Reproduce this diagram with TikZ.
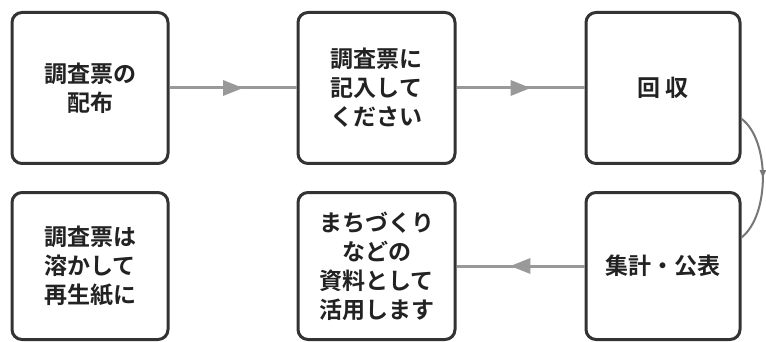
\documentclass[tikz,border=0pt]{standalone}
\usepackage{fontspec}
\setmainfont{Noto Sans CJK JP}[BoldFont={Noto Sans CJK JP Bold}]
\usetikzlibrary{calc,arrows.meta,decorations.markings}
\definecolor{boxline}{HTML}{333333}
\definecolor{txt}{HTML}{222222}
\definecolor{arr}{HTML}{999999}
\definecolor{curv}{HTML}{777777}
\tikzset{
  stepbox/.style={draw=boxline, line width=3pt, rounded corners=10pt, fill=white,
    align=center, text=txt, font=\bfseries\fontsize{23}{29}\selectfont, inner sep=0pt},
  toprow/.style={stepbox, minimum height=151pt},
  botrow/.style={stepbox, minimum height=147pt},
  flowarrow/.style={draw=arr, line width=3pt, postaction={decorate},
    decoration={markings, mark=at position #1 with {\arrow{Triangle[length=20pt,width=15pt,fill=arr]}}}},
  loopline/.style={draw=curv, line width=2pt, postaction={decorate},
    decoration={markings, mark=at position 0.5 with {\arrow{Triangle[length=8pt,width=6pt,fill=curv]}}}}
}
\begin{document}
\begin{tikzpicture}[x=1pt,y=-1pt]
\useasboundingbox[fill=white] (0,0) rectangle (766,342);
\node[toprow, minimum width=156pt] (b1) at (90,88) {調査票の\\配布};
\node[toprow, minimum width=157pt] (b2) at (376.5,88) {調査票に\\記入して\\ください};
\node[toprow, minimum width=154pt] (b3) at (663,88) {回\ 収};
\node[botrow, minimum width=156pt] (b6) at (90,266) {調査票は\\溶かして\\再生紙に};
\node[botrow, minimum width=157pt] (b5) at (376.5,266) {まちづくり\\などの\\資料として\\活用します};
\node[botrow, minimum width=154pt] (b4) at (663,266) {集計・公表};
\draw[flowarrow=0.58] (b1.east) -- (b2.west);
\draw[flowarrow=0.58] (b2.east) -- (b3.west);
\draw[flowarrow=0.58] (b4.west) -- (b5.east);
\coordinate (c1) at ($(b3.north east)!0.70!(b3.south east)$);
\coordinate (c2) at ($(b4.north east)!0.31!(b4.south east)$);
\draw[loopline] (c1) .. controls (770,140) and (770,215) .. (c2);
\end{tikzpicture}
\end{document}
